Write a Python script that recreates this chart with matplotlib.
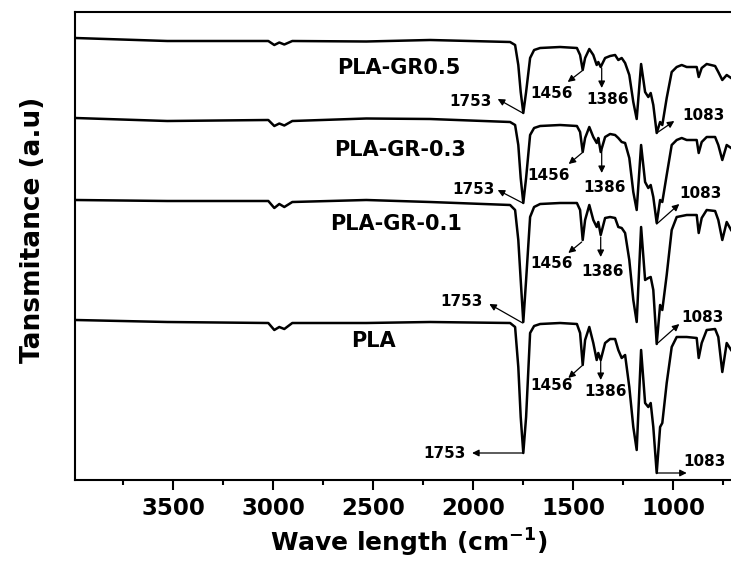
import matplotlib
matplotlib.use("Agg")
import matplotlib.pyplot as plt
from matplotlib.ticker import MultipleLocator

plt.rcParams['font.family'] = ['DejaVu Sans']
plt.rcParams['font.weight'] = 'bold'
plt.rcParams['mathtext.default'] = 'bf'

# wavenumbers (cm-1) shared by the four spectra
wavenumber = [3990, 3530, 3025, 2995, 2970, 2945, 2905, 2535, 2216,
              1816, 1791, 1775, 1763, 1750, 1736, 1716, 1696, 1666, 1566,
              1482, 1466, 1453, 1441, 1420, 1400, 1383, 1375, 1363, 1341,
              1316, 1291, 1275, 1258, 1241, 1220, 1200, 1183, 1161, 1141,
              1125, 1113, 1100, 1083, 1066, 1055, 1033, 1008, 983, 958,
              933, 883, 873, 858, 833, 791, 775, 755, 733, 711]

# transmittance (a.u.), already stacked
t_gr05 = [442, 439, 439, 435, 437.5, 435.5, 439, 438.5, 440,
          438, 435, 415, 388, 367, 388, 422, 430, 432, 433,
          432, 425, 410, 422, 431, 425, 415, 418, 413, 422,
          424, 425, 420, 422, 417, 405, 378, 361, 416, 388,
          383, 387, 375, 347, 358, 355, 382, 408, 413, 415,
          413, 413, 403, 412, 416, 414, 408, 400, 405, 402]
t_gr03 = [362, 359, 360, 354, 356.5, 354.5, 359, 361.5, 361,
          358, 355, 335, 302, 277, 302, 345, 352, 354, 355,
          354, 348, 328, 342, 353, 343, 337, 342, 328, 343,
          346, 345, 342, 338, 337, 322, 288, 270, 335, 298,
          292, 295, 283, 257, 280, 278, 305, 335, 340, 342,
          340, 340, 327, 338, 343, 343, 335, 320, 335, 332]
t_gr01 = [280, 279, 279, 272, 276, 273, 278, 280, 278,
          275, 270, 240, 200, 158, 200, 263, 273, 276, 277,
          277, 270, 240, 260, 275, 260, 253, 258, 245, 262,
          263, 262, 253, 252, 247, 220, 180, 158, 253, 200,
          202, 203, 190, 136, 175, 170, 205, 250, 263, 264,
          265, 265, 247, 262, 270, 269, 260, 240, 258, 250]
t_pla = [160, 158, 157, 150, 153, 151, 157, 157, 158,
         157, 153, 113, 63, 27, 63, 147, 154, 156, 157,
         156, 147, 115, 140, 153, 137, 120, 127, 120, 137,
         141, 141, 130, 122, 125, 93, 53, 30, 130, 77,
         73, 77, 53, 7, 53, 57, 97, 133, 143, 143,
         143, 142, 122, 137, 150, 151, 143, 108, 137, 130]

series = [t_gr05, t_gr03, t_gr01, t_pla]
names = ['PLA-GR0.5', 'PLA-GR-0.3', 'PLA-GR-0.1', 'PLA']
name_pos = [(2373, 412), (2366, 330), (2386, 256), (2501, 139)]

# peak annotations: label, text position, arrow start (peak), arrow end
peaks = [
    ('1753', (2015, 379), (1753, 367), (1878, 381)),
    ('1456', (1611, 387), (1457, 409), (1528, 398)),
    ('1386', (1331, 380), (1358, 412), (1358, 392)),
    ('1083', (851, 365), (1083, 347), (995, 359)),
    ('1753', (2001, 291), (1753, 277), (1878, 290)),
    ('1456', (1622, 305), (1457, 327), (1523, 316)),
    ('1386', (1345, 292), (1358, 330), (1358, 307)),
    ('1083', (862, 287), (1083, 256), (970, 276)),
    ('1753', (2058, 178), (1753, 157), (1920, 176)),
    ('1456', (1608, 217), (1458, 238), (1525, 227)),
    ('1386', (1354, 208), (1363, 243), (1363, 223)),
    ('1083', (853, 162), (1083, 136), (970, 156)),
    ('1753', (2145, 27), (1750, 27), (2006, 27)),
    ('1456', (1608, 95), (1458, 114), (1525, 102)),
    ('1386', (1340, 88), (1363, 120), (1363, 100)),
    ('1083', (843, 18), (1083, 7), (933, 7)),
]

fig = plt.figure(figsize=(7.31, 5.62), dpi=100)
ax = fig.add_axes([75/731, 1 - 480/562, 1 - 75/731, 468/562])

for t in series:
    ax.plot(wavenumber, t, color='black', lw=1.8, solid_joinstyle='round')

for name, (x, y) in zip(names, name_pos):
    ax.text(x, y, name, fontsize=15, fontweight='bold', ha='center', va='center')

for label, txt, start, end in peaks:
    ax.text(txt[0], txt[1], label, fontsize=11, fontweight='bold', ha='center', va='center')
    ax.annotate('', xy=end, xytext=start,
                arrowprops=dict(arrowstyle='-|>', lw=0.9, color='black',
                                mutation_scale=10, shrinkA=0, shrinkB=0))

ax.set_xlim(3991.5, 711.5)
ax.set_ylim(0, 468)
ax.set_yticks([])
ax.xaxis.set_major_locator(MultipleLocator(500))
ax.xaxis.set_minor_locator(MultipleLocator(250))
ax.tick_params(axis='x', which='major', length=7, width=1.5, labelsize=16.5, pad=5)
ax.tick_params(axis='x', which='minor', length=3.5, width=1.5)
for side in ['left', 'top', 'bottom']:
    ax.spines[side].set_linewidth(1.5)
ax.spines['right'].set_visible(False)

fig.text(409/731, 1 - 552/562, r'Wave length (cm$^{-1}$)', fontsize=18,
         fontweight='bold', ha='center', va='baseline')
fig.text(32.7/731, 1 - 230/562, 'Tansmitance (a.u)', fontsize=19,
         fontweight='bold', rotation=90, ha='center', va='center')

fig.savefig('out.png', dpi=100)
